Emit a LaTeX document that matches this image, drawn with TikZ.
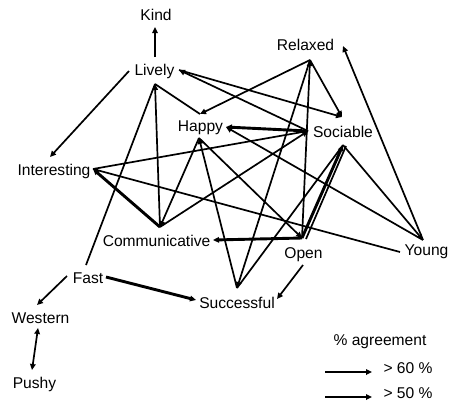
\documentclass[tikz,border=0pt]{standalone}
\usepackage{fontspec}
\setmainfont{Liberation Sans}
\usetikzlibrary{arrows.meta}

\begin{document}
\begin{tikzpicture}[x=1pt, y=-1pt,
		lbl/.style={anchor=base, inner sep=0pt, font=\fontsize{15.6}{18}\selectfont},
		link/.style={line width=1.7pt},
		strong/.style={line width=2.9pt},
		>={Triangle[length=6pt,width=5.5pt]}]
	\useasboundingbox (0,0) rectangle (449,400);

	\draw
		(156,20) node[lbl] (kind) {Kind}
		(154.5,75) node[lbl] (lively) {Lively}
		(305.5,50.5) node[lbl] (relaxed) {Relaxed}
		(200.5,131) node[lbl] (happy) {Happy}
		(343,137) node[lbl] (sociable) {Sociable}
		(54,175) node[lbl] (interesting) {Interesting}
		(156.5,246) node[lbl] (comm) {Communicative}
		(303.5,258) node[lbl] (open) {Open}
		(426.5,255) node[lbl] (young) {Young}
		(88,283) node[lbl] (fast) {Fast}
		(237,308) node[lbl] (succ) {Successful}
		(40.5,323) node[lbl] (western) {Western}
		(34.5,388) node[lbl] (pushy) {Pushy}

		(380,345) node[lbl] (agree) {\% agreement}
		(408,373) node[lbl] (over60) {> 60 \%}
		(408,398) node[lbl] (over50) {> 50 \%};

	\path
		(155,27) coordinate (kind-b)
		(155,57) coordinate (lively-t)
		(129,71) coordinate (lively-l)
		(179,70) coordinate (lively-r)
		(155,84) coordinate (lively-b)
		(310,60) coordinate (relaxed-b)
		(343,46) coordinate (relaxed-r)
		(200,114) coordinate (happy-t)
		(226,127) coordinate (happy-r)
		(199,138) coordinate (happy-b)
		(342,117) coordinate (sociable-t)
		(308,131) coordinate (sociable-l)
		(343,145) coordinate (sociable-b)
		(346,146) coordinate (sociable-b2)
		(50,157) coordinate (interesting-t)
		(93,169) coordinate (interesting-r)
		(160,227) coordinate (comm-t)
		(213,240) coordinate (comm-r)
		(302,238) coordinate (open-t)
		(306,239) coordinate (open-t2)
		(303,265) coordinate (open-b)
		(423,240) coordinate (young-t)
		(400,252) coordinate (young-l)
		(86,265) coordinate (fast-t)
		(106,277) coordinate (fast-r)
		(67,276) coordinate (fast-l)
		(237,288) coordinate (succ-t)
		(196,300) coordinate (succ-l)
		(277,299) coordinate (succ-r)
		(37,305) coordinate (western-t)
		(38,328) coordinate (western-b)
		(32,370) coordinate (pushy-t)
		(325,372) coordinate (key60)
		(372,372) coordinate (key60-end)
		(325,397) coordinate (key50)
		(372,397) coordinate (key50-end);

	\draw[link]
		(lively-b) -- (fast-t)
		(lively-b) -- (happy-t)
		(sociable-l) -- (interesting-r)
		(sociable-b) -- (succ-t)
		(sociable-b2) -- (open-t2)
		(interesting-r) -- (young-l);

	\draw[link, ->] (lively-t) -- (kind-b);
	\draw[link, ->] (lively-l) -- (interesting-t);
	\draw[link, ->] (sociable-l) -- (lively-r);
	\draw[link, ->] (lively-r) -- (sociable-t);
	\draw[link, ->] (relaxed-b) -- (happy-t);
	\draw[link, ->] (relaxed-b) -- (sociable-t);
	\draw[link, ->] (relaxed-b) -- (succ-t);
	\draw[link, ->] (open-t) -- (relaxed-b);
	\draw[link, ->] (young-t) -- (relaxed-r);
	\draw[link, ->] (young-t) -- (happy-r);
	\draw[link, ->] (sociable-b) -- (young-t);
	\draw[link, ->] (comm-t) -- (lively-b);
	\draw[link, ->] (comm-t) -- (sociable-l);
	\draw[link, ->] (succ-t) -- (happy-b);
	\draw[link, ->] (happy-b) -- (comm-t);
	\draw[link, ->] (happy-b) -- (open-t);
	\draw[link, ->] (open-b) -- (succ-r);
	\draw[link, ->] (fast-l) -- (western-t);
	\draw[link, <->] (western-b) -- (pushy-t);

	\draw[strong, ->] (sociable-l) -- (happy-r);
	\draw[strong, ->] (comm-t) -- (interesting-r);
	\draw[strong, ->] (open-t) -- (comm-r);
	\draw[strong, ->] (open-t) -- (sociable-b);
	\draw[strong, ->] (fast-r) -- (succ-l);

	\draw[strong, ->] (key60) -- (key60-end);
	\draw[link, ->] (key50) -- (key50-end);
\end{tikzpicture}
\end{document}
